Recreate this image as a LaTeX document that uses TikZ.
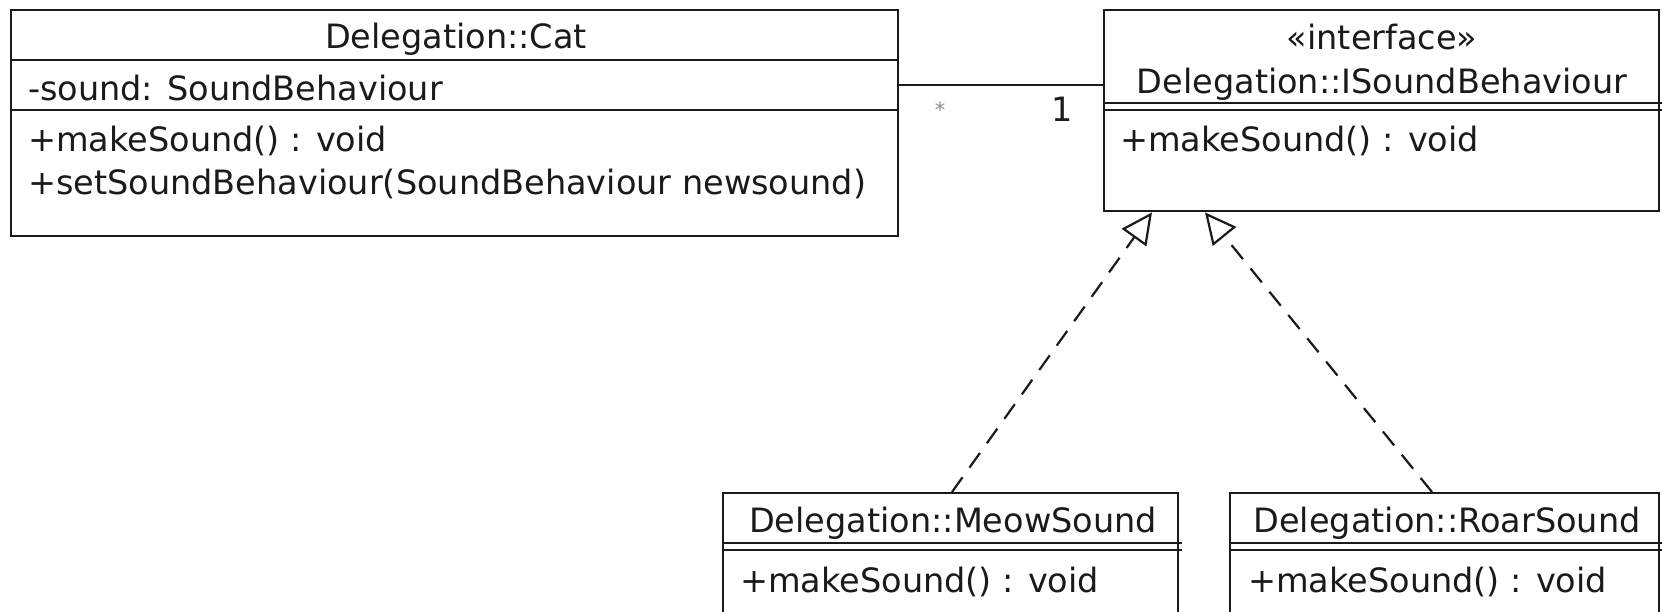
\documentclass[tikz,border=0pt]{standalone}
\usepackage{fontspec}
\setmainfont{DejaVu Sans}
\usetikzlibrary{arrows.meta}
\definecolor{ink}{HTML}{1A1A1A}
\definecolor{softink}{HTML}{8A8A8A}
\newcommand{\umlsize}{\fontsize{33.5}{40}\selectfont}
\newcommand{\umlsmall}{\fontsize{21}{24}\selectfont}
\tikzset{
  classbox/.style={draw=ink, line width=2.4pt, fill=white, rectangle, inner sep=0pt, anchor=north west},
  compline/.style={draw=ink, line width=2.4pt},
  membertext/.style={inner sep=0pt, anchor=base west, text=ink, font=\umlsize},
  titletext/.style={inner sep=0pt, anchor=base, text=ink, font=\umlsize},
  assoc/.style={draw=ink, line width=2.4pt},
  realization/.style={draw=ink, line width=2.2pt, dash pattern=on 18pt off 12pt,
    -{Triangle[open, length=31pt, width=30pt, line width=2.2pt]}},
}
\begin{document}
\begin{tikzpicture}[x=1pt,y=-1pt]
\useasboundingbox (0,0) rectangle (1662,612);
\fill[white] (0,0) rectangle (1662,612);
\clip (0,0) rectangle (1662,612);

% class Cat
\node[classbox, minimum width=887pt, minimum height=226pt] (cat) at (10,9) {};
\draw[compline] ([yshift=-51pt]cat.north west) -- ([yshift=-51pt]cat.north east);
\draw[compline] ([yshift=-101pt]cat.north west) -- ([yshift=-101pt]cat.north east);
\node[titletext] (catname) at (456,49) {Delegation::Cat};
\node[membertext] (catattr) at (28,101) {-sound: SoundBehaviour};
\node[membertext] (catop1) at (28,152) {+makeSound() : void};
\node[membertext] (catop2) at (28,195) {+setSoundBehaviour(SoundBehaviour newsound)};

% interface ISoundBehaviour
\node[classbox, minimum width=555pt, minimum height=201pt] (iface) at (1103,9) {};
\draw[compline] ([yshift=-94pt]iface.north west) -- ([yshift=-94pt,xshift=3pt]iface.north east);
\draw[compline] ([yshift=-101pt]iface.north west) -- ([yshift=-101pt,xshift=3pt]iface.north east);
\node[titletext] (ifacestereo) at (1382,50) {«interface»};
\node[titletext] (ifacename) at (1382,94) {Delegation::ISoundBehaviour};
\node[membertext] (ifaceop) at (1120,152) {+makeSound() : void};

% class MeowSound
\node[classbox, minimum width=455pt, minimum height=150pt] (meow) at (722,492) {};
\draw[compline] ([yshift=-51pt]meow.north west) -- ([yshift=-51pt,xshift=3pt]meow.north east);
\draw[compline] ([yshift=-58pt]meow.north west) -- ([yshift=-58pt,xshift=3pt]meow.north east);
\node[titletext] (meowname) at (953,532) {Delegation::MeowSound};
\node[membertext] (meowop) at (740,592) {+makeSound() : void};

% class RoarSound
\node[classbox, minimum width=429pt, minimum height=150pt] (roar) at (1229,492) {};
\draw[compline] ([yshift=-51pt]roar.north west) -- ([yshift=-51pt,xshift=3pt]roar.north east);
\draw[compline] ([yshift=-58pt]roar.north west) -- ([yshift=-58pt,xshift=3pt]roar.north east);
\node[titletext] (roarname) at (1447,532) {Delegation::RoarSound};
\node[membertext] (roarop) at (1248,592) {+makeSound() : void};

% association Cat -- ISoundBehaviour with multiplicities
\draw[assoc] ([yshift=-76pt]cat.north east) -- ([yshift=-76pt]iface.north west);
\node[inner sep=0pt, text=softink, font=\umlsmall] (multcat) at (940,110) {*};
\node[titletext] (multiface) at (1062,122) {1};

% realizations of the interface
\draw[realization] ([xshift=230pt]meow.north west) -- ([xshift=49pt]iface.south west);
\draw[realization] ([xshift=203pt]roar.north west) -- ([xshift=102pt]iface.south west);
\end{tikzpicture}
\end{document}
